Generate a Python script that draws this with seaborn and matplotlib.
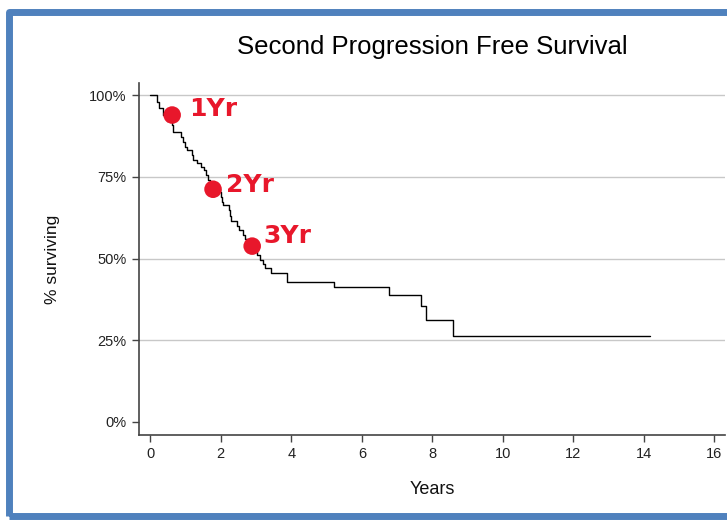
import numpy as np
import pandas as pd
import matplotlib
matplotlib.use('Agg')
import matplotlib.pyplot as plt
import seaborn as sns
from matplotlib.patches import Rectangle
from matplotlib.ticker import FuncFormatter

# Kaplan-Meier step points (years, % surviving)
years = [0.00, 0.18, 0.26, 0.36, 0.46, 0.62, 0.65, 0.86, 0.93, 0.99, 1.05,
         1.17, 1.20, 1.33, 1.44, 1.52, 1.58, 1.63, 1.68, 1.74, 1.98, 2.00,
         2.03, 2.05, 2.24, 2.26, 2.28, 2.47, 2.53, 2.62, 2.70, 2.80, 2.90,
         2.97, 3.03, 3.12, 3.20, 3.26, 3.42, 3.88, 5.20, 6.76, 7.68, 7.81,
         8.59, 14.18]
surv = [100.0, 98.0, 96.0, 94.0, 92.0, 91.0, 88.8, 87.2, 85.7, 84.2, 83.2,
        81.6, 80.1, 79.1, 78.1, 77.0, 75.5, 74.0, 72.5, 71.4, 70.4, 68.8,
        67.3, 66.3, 64.7, 63.1, 61.5, 60.0, 58.6, 57.2, 56.0, 54.8, 53.6,
        52.3, 51.0, 49.7, 48.3, 47.0, 45.5, 42.9, 41.4, 39.0, 35.5, 31.2,
        26.3, 26.3]

# hand-drawn milestone marks
mark_years = [0.62, 1.78, 2.89]
mark_surv = [93.9, 71.2, 53.8]
mark_labels = ['1Yr', '2Yr', '3Yr']

xticks = list(range(0, 17, 2))
yticks = [0, 25, 50, 75, 100]

km = pd.DataFrame({'years': years, 'surv': surv})
marks = pd.DataFrame({'years': mark_years, 'surv': mark_surv, 'label': mark_labels})

sns.set_style('white')
plt.rcParams['font.family'] = ['Liberation Sans', 'DejaVu Sans']

fig = plt.figure(figsize=(7.27, 5.22), dpi=100)
ax = fig.add_axes([139 / 727, 87 / 522, 586 / 727, 352 / 522])

sns.lineplot(data=km, x='years', y='surv', drawstyle='steps-post',
             color='black', linewidth=1.0, ax=ax)

red = '#E8172B'
sns.scatterplot(data=marks, x='years', y='surv', color=red, s=160,
                edgecolor='none', ax=ax, zorder=5)
offsets = [(12, 4), (9, 3), (8, 7)]
for (_, r), off in zip(marks.iterrows(), offsets):
    ax.annotate(r['label'], (r['years'], r['surv']), xytext=off,
                textcoords='offset points', ha='left', va='center',
                color=red, fontsize=18, fontweight='bold',
                family='DejaVu Sans', zorder=6)

ax.set_xlim(-0.32, 16.3)
ax.set_ylim(-3.98, 103.7)
ax.set_xticks(xticks)
ax.set_yticks(yticks)
ax.yaxis.set_major_formatter(FuncFormatter(lambda v, p: f'{v:.0f}%'))

ax.grid(axis='y', color='#C8C8C8', linewidth=1)
ax.get_ygridlines()[0].set_visible(False)
ax.set_axisbelow(True)

for s in ['top', 'right']:
    ax.spines[s].set_visible(False)
for s in ['left', 'bottom']:
    ax.spines[s].set_color('#444444')
    ax.spines[s].set_linewidth(1.2)

ax.tick_params(axis='both', direction='out', length=5, width=1,
               color='#444444', labelsize=10.5, labelcolor='#222222',
               bottom=True, left=True, pad=4)

ax.set_xlabel('Years', fontsize=13, color='#111111')
ax.set_ylabel('% surviving', fontsize=12.5, color='#111111')
ax.xaxis.set_label_coords(0.5, -0.156)
ax.xaxis.label.set_va('center')
ax.yaxis.set_label_coords(-0.148, 0.5)
ax.yaxis.label.set_va('center')

ax.text(0.5, 1.102, 'Second Progression Free Survival', transform=ax.transAxes,
        ha='center', va='center', fontsize=18.5, color='black')

# blue frame around the figure
fig.patches.append(Rectangle((8.5 / 727, 6.5 / 522), 1.1, 504 / 522,
                             transform=fig.transFigure, fill=False,
                             edgecolor='#4F81BD', linewidth=5.0,
                             joinstyle='round'))

fig.savefig('out.png', dpi=100)
